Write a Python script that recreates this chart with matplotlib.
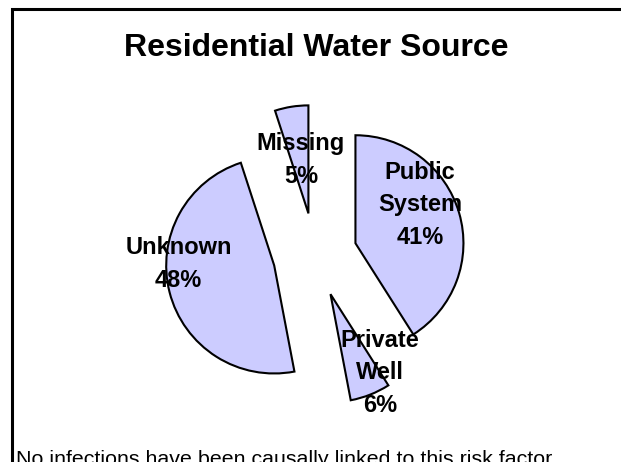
import matplotlib
matplotlib.use("Agg")
import matplotlib.pyplot as plt
from matplotlib.lines import Line2D

plt.rcParams['font.family'] = ['Liberation Sans', 'DejaVu Sans']

# ---- data ----
categories = ["Public\nSystem", "Private\nWell", "Unknown", "Missing"]
percentages = [41, 6, 48, 5]
title = "Residential Water Source"
footnote = "No infections have been causally linked to this risk factor"

# ---- layout (label anchor points, last-line baseline, in pie-radius units) ----
label_pos = [(0.972, 0.102), (0.602, -1.454), (-1.264, -0.296), (-0.130, 0.667)]

W, H = 621, 462
fig = plt.figure(figsize=(W / 100, H / 100), dpi=100)
fig.patch.set_facecolor('white')

# pie axes: center at pixel (315, 255), radius 108 px
r_px = 108
lim = 1.9
size = 2 * lim * r_px
cx, cy = 315, 255
ax = fig.add_axes([(cx - size / 2) / W, (H - cy - size / 2) / H, size / W, size / H])

wedges, _ = ax.pie(percentages, startangle=90, counterclock=False,
                   explode=[0.39] * len(percentages),
                   colors=['#CCCCFF'] * len(percentages),
                   wedgeprops=dict(edgecolor='black', linewidth=1.5))
ax.set_xlim(-lim, lim)
ax.set_ylim(-lim, lim)
ax.set_aspect('equal')
ax.axis('off')

for cat, pct, (lx, ly) in zip(categories, percentages, label_pos):
    ax.text(lx, ly, f"{cat}\n{pct}%", ha='center', va='baseline',
            fontsize=17, fontweight='bold', linespacing=1.53, color='black')

# title
fig.text(316.5 / W, (H - 56) / H, title, ha='center', va='baseline',
         fontsize=23, fontweight='bold', color='black')

# footnote (cut off at bottom, as in the reference)
fig.text(16.5 / W, -3 / H, footnote, ha='left', va='baseline',
         fontsize=15.4, color='black')

# frame (top and left edges)
frame = Line2D([11.5 / W, 11.5 / W, 1.0], [0.0, (H - 9) / H, (H - 9) / H],
               transform=fig.transFigure, color='black', linewidth=2.2,
               solid_joinstyle='miter', solid_capstyle='butt')
fig.add_artist(frame)

fig.savefig("out.png", dpi=100, facecolor='white')
